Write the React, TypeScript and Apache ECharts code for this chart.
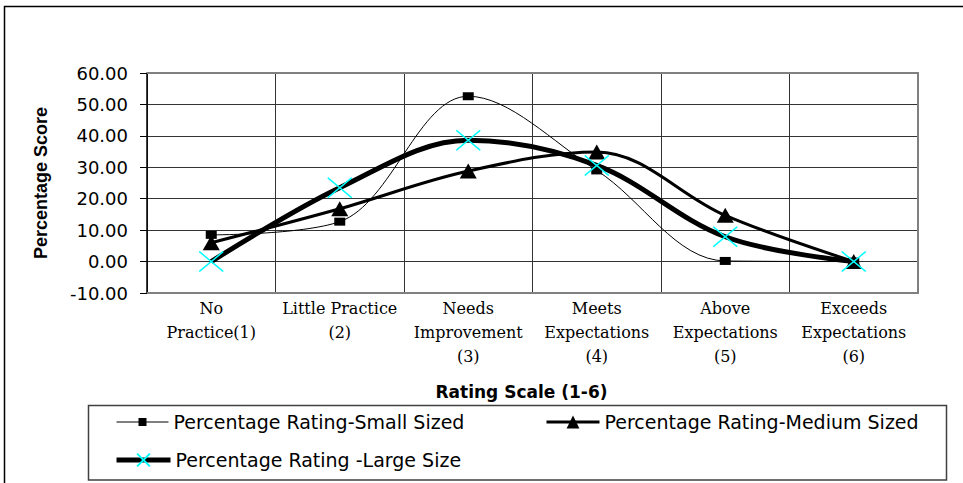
import React, { useEffect, useRef } from 'react';
import * as echarts from 'echarts';

const categories = [
  'No\nPractice(1)',
  'Little Practice\n(2)',
  'Needs\nImprovement\n(3)',
  'Meets\nExpectations\n(4)',
  'Above\nExpectations\n(5)',
  'Exceeds\nExpectations\n(6)',
];
const seriesNames = [
  'Percentage Rating-Small Sized',
  'Percentage Rating-Medium Sized',
  'Percentage Rating -Large Size',
];
const smallSized = [8.5, 12.7, 52.6, 29.0, 0.2, 0];
const mediumSized = [6.0, 16.8, 28.8, 34.9, 14.7, 0];
const largeSize = [0, 23.5, 38.6, 30.6, 7.9, 0];
const yMin = -10;
const yMax = 60;
const yInterval = 10;

export default function App() {
  const ref = useRef<HTMLDivElement>(null);
  useEffect(() => {
    const chart = echarts.init(ref.current!, null, { renderer: 'svg' });
    const xSymbol = 'path://M0,0L22,18M22,0L0,18';
    const legendText = { fontFamily: 'DejaVu Sans', fontSize: 19, color: '#000', lineHeight: 20 };
    chart.setOption({
      animation: false,
      backgroundColor: '#fff',
      grid: { left: 147, right: 45, top: 73, bottom: 190, containLabel: false },
      xAxis: {
        type: 'category',
        data: categories,
        boundaryGap: true,
        axisLine: { show: false },
        axisTick: { show: false },
        splitLine: { show: true, interval: 0, lineStyle: { color: '#333', width: 1 } },
        axisLabel: {
          interval: 0,
          fontFamily: 'DejaVu Serif',
          fontSize: 16,
          lineHeight: 24,
          color: '#000',
          margin: 3,
        },
        name: 'Rating Scale (1-6)',
        nameLocation: 'middle',
        nameGap: 90,
        nameTextStyle: {
          fontFamily: 'DejaVu Sans',
          fontWeight: 'bold',
          fontSize: 17,
          color: '#000',
          padding: [0, 22, 0, 0],
        },
      },
      yAxis: {
        type: 'value',
        min: yMin,
        max: yMax,
        interval: yInterval,
        axisLine: { show: true, lineStyle: { color: '#000', width: 1.5 } },
        axisTick: { show: true, length: 7, lineStyle: { color: '#000', width: 1 } },
        splitLine: { show: true, lineStyle: { color: '#333', width: 1 } },
        axisLabel: {
          formatter: (v: number) => v.toFixed(2),
          fontFamily: 'DejaVu Sans',
          fontSize: 18,
          color: '#000',
          margin: 19,
        },
        name: 'Percentage Score',
        nameLocation: 'middle',
        nameGap: 97,
        nameTextStyle: {
          fontFamily: 'Liberation Sans',
          fontWeight: 'bold',
          fontSize: 18,
          color: '#000',
        },
      },
      legend: [
        {
          data: [seriesNames[0]],
          left: 116,
          top: 412,
          padding: 0,
          itemWidth: 52,
          itemHeight: 10,
          lineStyle: { width: 1, color: '#000' },
          textStyle: legendText,
        },
        {
          data: [seriesNames[1]],
          left: 545,
          top: 412,
          padding: 0,
          itemWidth: 53,
          itemHeight: 16,
          lineStyle: { width: 3, color: '#000' },
          textStyle: legendText,
        },
        {
          data: [seriesNames[2]],
          left: 114,
          top: 450,
          padding: 0,
          itemWidth: 54,
          itemHeight: 16,
          lineStyle: { width: 5, color: '#000' },
          textStyle: legendText,
        },
      ],
      graphic: [
        {
          type: 'rect',
          z: 0,
          shape: { x: 4.5, y: 6.5, width: 1100, height: 1100 },
          style: { fill: 'none', stroke: '#000', lineWidth: 1.5 },
        },
        {
          type: 'polyline',
          z: 1,
          shape: { points: [[147, 73], [918, 73], [918, 293], [147, 293]] },
          style: { fill: 'none', stroke: '#808080', lineWidth: 2 },
        },
        {
          type: 'rect',
          z: 0,
          shape: { x: 88.5, y: 405.5, width: 858, height: 74.5 },
          style: { fill: 'none', stroke: '#404040', lineWidth: 1.5 },
        },
      ],
      series: [
        {
          name: seriesNames[0],
          type: 'line',
          data: smallSized,
          smooth: 0.35,
          symbol: 'rect',
          symbolSize: [11, 8],
          showAllSymbol: true,
          lineStyle: { color: '#000', width: 1 },
          itemStyle: { color: '#000' },
          z: 2,
        },
        {
          name: seriesNames[1],
          type: 'line',
          data: mediumSized,
          smooth: 0.35,
          symbol: 'triangle',
          symbolSize: [17, 15],
          showAllSymbol: true,
          lineStyle: { color: '#000', width: 3 },
          itemStyle: { color: '#000' },
          z: 3,
        },
        {
          name: seriesNames[2],
          type: 'line',
          data: largeSize,
          smooth: 0.35,
          symbol: xSymbol,
          symbolSize: [24, 20],
          showAllSymbol: true,
          lineStyle: { color: '#000', width: 5 },
          itemStyle: { color: '#00FFFF', borderColor: '#00FFFF', borderWidth: 1.5 },
          z: 4,
        },
      ],
    });
    return () => chart.dispose();
  }, []);
  return (
    <div
      ref={ref}
      style={{ position: 'fixed', left: 0, top: 0, width: 963, height: 483, background: '#fff' }}
    />
  );
}
